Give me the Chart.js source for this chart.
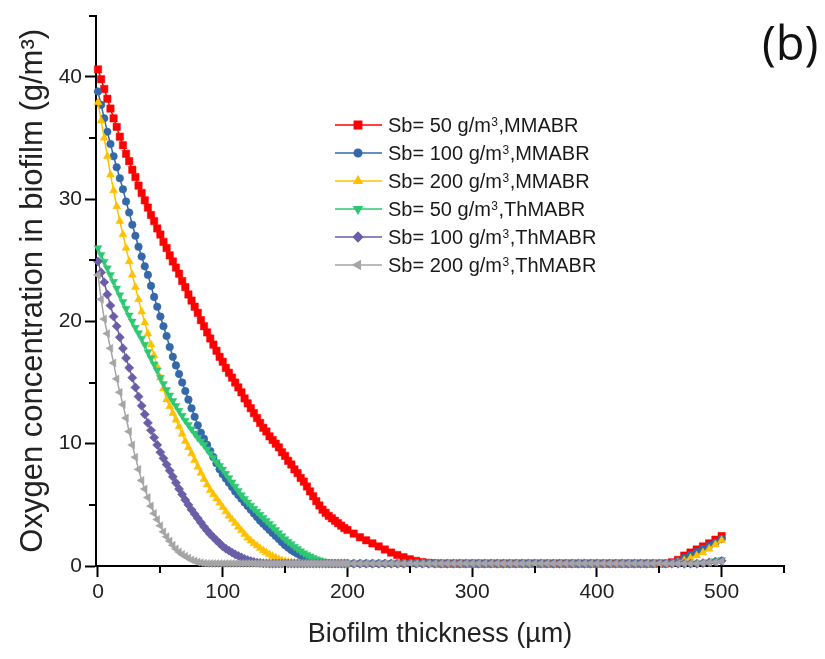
<!DOCTYPE html>
<html>
<head>
<meta charset="utf-8">
<script src="https://cdn.jsdelivr.net/npm/chart.js@4/dist/chart.umd.min.js"></script>
<style>
html,body{margin:0;padding:0;background:#fff;overflow:hidden}
canvas{display:block}
</style>
</head>
<body>
<canvas id="c" width="825" height="659"></canvas>
<script>
// Biofilm thickness (µm)
const thickness = [
0,2.5,5,7.5,10,12.5,15,17.5,20,22.5,
25,27.5,30,32.5,35,37.5,40,42.5,45,47.5,
50,52.5,55,57.5,60,62.5,65,67.5,70,72.5,
75,77.5,80,82.5,85,87.5,90,92.5,95,97.5,
100,102.5,105,107.5,110,112.5,115,117.5,120,122.5,
125,127.5,130,132.5,135,137.5,140,142.5,145,147.5,
150,152.5,155,157.5,160,162.5,165,167.5,170,172.5,
175,177.5,180,182.5,185,187.5,190,192.5,195,197.5,
200,
205,210,215,220,225,230,235,240,245,250,
255,260,265,270,275,280,285,290,295,300,
305,310,315,320,325,330,335,340,345,350,
355,360,365,370,375,380,385,390,395,400,
405,410,415,420,425,430,435,440,445,450,
455,460,465,470,475,480,485,490,495,500
];

// Oxygen concentration (g/m3)
const sb50MMABR = [
40.6,39.8,39.0,38.2,37.4,36.6,35.9,35.1,34.4,33.7,
33.1,32.4,31.8,31.1,30.5,29.9,29.3,28.7,28.2,27.6,
27.1,26.5,26.0,25.4,24.9,24.4,23.9,23.3,22.8,22.2,
21.7,21.2,20.7,20.1,19.6,19.1,18.6,18.1,17.6,17.1,
16.7,16.2,15.8,15.4,15.0,14.6,14.2,13.7,13.3,12.9,
12.5,12.1,11.7,11.3,11.0,10.6,10.3,10.0,9.7,9.3,
9.0,8.6,8.3,7.9,7.6,7.2,6.9,6.5,6.1,5.7,
5.3,4.95,4.6,4.35,4.1,3.9,3.7,3.5,3.3,3.1,
2.95,
2.65,2.35,2.1,1.85,1.6,1.35,1.1,0.9,0.72,0.55,
0.42,0.32,0.26,0.22,0.2,0.2,0.2,0.2,0.2,0.2,
0.2,0.2,0.2,0.2,0.2,0.2,0.2,0.2,0.2,0.2,
0.2,0.2,0.2,0.2,0.2,0.2,0.2,0.2,0.2,0.2,
0.2,0.2,0.2,0.2,0.2,0.2,0.2,0.2,0.2,0.2,
0.2,0.3,0.5,0.85,1.1,1.35,1.6,1.85,2.15,2.45
];
const sb100MMABR = [
38.8,37.7,36.6,35.5,34.5,33.5,32.6,31.7,30.8,29.8,
28.9,27.9,27.0,26.1,25.3,24.5,23.8,22.9,22.0,21.2,
20.4,19.6,18.8,17.9,17.1,16.4,15.7,15.0,14.3,13.6,
12.9,12.2,11.5,10.9,10.4,9.9,9.4,8.9,8.4,7.9,
7.5,7.15,6.8,6.45,6.1,5.8,5.5,5.2,4.9,4.6,
4.3,4.0,3.7,3.45,3.2,2.95,2.7,2.45,2.2,1.95,
1.7,1.5,1.3,1.15,1.0,0.85,0.7,0.57,0.46,0.38,
0.32,0.27,0.24,0.22,0.21,0.2,0.2,0.2,0.2,0.2,
0.2,
0.2,0.2,0.2,0.2,0.2,0.2,0.2,0.2,0.2,0.2,
0.2,0.2,0.2,0.2,0.2,0.2,0.2,0.2,0.2,0.2,
0.2,0.2,0.2,0.2,0.2,0.2,0.2,0.2,0.2,0.2,
0.2,0.2,0.2,0.2,0.2,0.2,0.2,0.2,0.2,0.2,
0.2,0.2,0.2,0.2,0.2,0.2,0.2,0.2,0.2,0.2,
0.2,0.25,0.4,0.65,0.9,1.15,1.4,1.65,1.9,2.2
];
const sb200MMABR = [
37.9,36.4,35.0,33.5,32.0,30.7,29.4,28.2,27.1,26.0,
24.9,23.8,22.8,21.8,20.8,19.9,19.0,18.1,17.2,16.3,
15.4,14.5,13.6,13.05,12.5,11.95,11.4,10.8,10.2,9.7,
9.2,8.65,8.1,7.6,7.1,6.65,6.2,5.85,5.5,5.15,
4.8,4.45,4.1,3.8,3.5,3.2,2.9,2.6,2.3,2.07,
1.85,1.65,1.45,1.27,1.1,0.95,0.8,0.67,0.55,0.45,
0.37,0.31,0.27,0.24,0.22,0.21,0.2,0.2,0.2,0.2,
0.2,0.2,0.2,0.2,0.2,0.2,0.2,0.2,0.2,0.2,
0.2,
0.2,0.2,0.2,0.2,0.2,0.2,0.2,0.2,0.2,0.2,
0.2,0.2,0.2,0.2,0.2,0.2,0.2,0.2,0.2,0.2,
0.2,0.2,0.2,0.2,0.2,0.2,0.2,0.2,0.2,0.2,
0.2,0.2,0.2,0.2,0.2,0.2,0.2,0.2,0.2,0.2,
0.2,0.2,0.2,0.2,0.2,0.2,0.2,0.2,0.2,0.2,
0.2,0.2,0.28,0.45,0.65,0.85,1.1,1.4,1.75,2.1
];
const sb50ThMABR = [
26.0,25.45,24.9,24.35,23.8,23.25,22.7,22.15,21.6,21.05,
20.5,20.0,19.5,19.05,18.6,18.1,17.5,17.0,16.5,16.0,
15.4,14.9,14.4,13.95,13.5,13.1,12.7,12.3,11.9,11.55,
11.2,10.85,10.5,10.2,9.9,9.55,9.2,8.85,8.5,8.2,
7.9,7.55,7.2,6.85,6.5,6.15,5.8,5.5,5.2,4.95,
4.7,4.45,4.2,3.95,3.7,3.45,3.2,2.95,2.7,2.45,
2.2,2.0,1.8,1.6,1.4,1.22,1.05,0.92,0.8,0.68,
0.57,0.48,0.4,0.34,0.29,0.25,0.23,0.21,0.2,0.2,
0.2,
0.2,0.2,0.2,0.2,0.2,0.2,0.2,0.2,0.2,0.2,
0.2,0.2,0.2,0.2,0.2,0.2,0.2,0.2,0.2,0.2,
0.2,0.2,0.2,0.2,0.2,0.2,0.2,0.2,0.2,0.2,
0.2,0.2,0.2,0.2,0.2,0.2,0.2,0.2,0.2,0.2,
0.2,0.2,0.2,0.2,0.2,0.2,0.2,0.2,0.2,0.2,
0.2,0.2,0.2,0.2,0.2,0.2,0.25,0.32,0.4,0.5
];
const sb100ThMABR = [
24.9,24.0,23.2,22.2,21.3,20.4,19.6,18.7,17.8,17.0,
16.2,15.4,14.6,13.85,13.1,12.4,11.7,11.1,10.5,9.9,
9.3,8.8,8.3,7.8,7.3,6.8,6.3,5.85,5.4,5.0,
4.6,4.25,3.9,3.55,3.2,2.9,2.6,2.35,2.1,1.85,
1.6,1.42,1.25,1.1,0.95,0.82,0.7,0.58,0.48,0.4,
0.33,0.28,0.25,0.22,0.21,0.2,0.2,0.2,0.2,0.2,
0.2,0.2,0.2,0.2,0.2,0.2,0.2,0.2,0.2,0.2,
0.2,0.2,0.2,0.2,0.2,0.2,0.2,0.2,0.2,0.2,
0.2,
0.2,0.2,0.2,0.2,0.2,0.2,0.2,0.2,0.2,0.2,
0.2,0.2,0.2,0.2,0.2,0.2,0.2,0.2,0.2,0.2,
0.2,0.2,0.2,0.2,0.2,0.2,0.2,0.2,0.2,0.2,
0.2,0.2,0.2,0.2,0.2,0.2,0.2,0.2,0.2,0.2,
0.2,0.2,0.2,0.2,0.2,0.2,0.2,0.2,0.2,0.2,
0.2,0.2,0.2,0.2,0.2,0.2,0.24,0.3,0.36,0.42
];
const sb200ThMABR = [
23.8,21.8,20.2,19.0,17.8,16.6,15.3,14.2,13.2,12.1,
11.0,9.9,8.9,7.9,7.0,6.3,5.6,4.9,4.3,3.8,
3.3,2.8,2.4,2.05,1.7,1.4,1.15,0.95,0.8,0.65,
0.5,0.4,0.32,0.27,0.23,0.21,0.2,0.2,0.2,0.2,
0.2,0.2,0.2,0.2,0.2,0.2,0.2,0.2,0.2,0.2,
0.2,0.2,0.2,0.2,0.2,0.2,0.2,0.2,0.2,0.2,
0.2,0.2,0.2,0.2,0.2,0.2,0.2,0.2,0.2,0.2,
0.2,0.2,0.2,0.2,0.2,0.2,0.2,0.2,0.2,0.2,
0.2,
0.2,0.2,0.2,0.2,0.2,0.2,0.2,0.2,0.2,0.2,
0.2,0.2,0.2,0.2,0.2,0.2,0.2,0.2,0.2,0.2,
0.2,0.2,0.2,0.2,0.2,0.2,0.2,0.2,0.2,0.2,
0.2,0.2,0.2,0.2,0.2,0.2,0.2,0.2,0.2,0.2,
0.2,0.2,0.2,0.2,0.2,0.2,0.2,0.2,0.2,0.2,
0.2,0.2,0.2,0.2,0.2,0.2,0.24,0.28,0.33,0.38
];

// Legend text parts (prefix, superscript, suffix)
const labelPrefix = ['Sb= 50 g/m', 'Sb= 100 g/m', 'Sb= 200 g/m', 'Sb= 50 g/m', 'Sb= 100 g/m', 'Sb= 200 g/m'];
const labelSuffix = [',MMABR', ',MMABR', ',MMABR', ',ThMABR', ',ThMABR', ',ThMABR'];
const labelSup = '3';

// Axis tick settings
const xMajorStep = 100;
const yMajorStep = 10;
const xMinorTicks = [50, 150, 250, 350, 450, 550];
const yMinorTicks = [5, 15, 25, 35, 45];

const seriesValues = [sb50MMABR, sb100MMABR, sb200MMABR, sb50ThMABR, sb100ThMABR, sb200ThMABR];
const seriesColors = ['#FF0000', '#3468A8', '#FFC000', '#2EC872', '#6A5FA6', '#A5A5A5'];
const seriesStyles = ['rect', 'circle', 'triangle', 'triangle', 'rectRot', 'triangle'];
const seriesRotation = [0, 0, 0, 180, 0, 270];
const seriesRadius = [5.2, 3.8, 4.6, 4.6, 4.6, 4.6];

const FONT = '"Liberation Sans", Arial, sans-serif';

const datasets = seriesValues.map((vals, i) => ({
  label: labelPrefix[i] + '\u00B3' + labelSuffix[i],
  data: thickness.map((t, k) => ({x: t, y: vals[k]})),
  showLine: true,
  borderColor: seriesColors[i],
  backgroundColor: seriesColors[i],
  pointBackgroundColor: seriesColors[i],
  pointBorderColor: seriesColors[i],
  pointBorderWidth: 0.5,
  borderWidth: 1.5,
  pointStyle: seriesStyles[i],
  pointRotation: seriesRotation[i],
  pointRadius: seriesRadius[i],
  order: 5 - i,
  clip: false,
  tension: 0
}));

const minorTicksPlugin = {
  id: 'minorTicks',
  afterDraw(chart) {
    const {x, y} = chart.scales;
    const ctx = chart.ctx;
    ctx.save();
    ctx.strokeStyle = '#000';
    ctx.lineWidth = 2;
    ctx.beginPath();
    xMinorTicks.forEach(v => {
      const px = Math.round(x.getPixelForValue(v));
      ctx.moveTo(px, y.bottom);
      ctx.lineTo(px, y.bottom + 7);
    });
    yMinorTicks.forEach(v => {
      const py = Math.round(y.getPixelForValue(v));
      ctx.moveTo(x.left, py);
      ctx.lineTo(x.left - 7, py);
    });
    ctx.stroke();
    ctx.restore();
  }
};

const LEG_LINE_X0 = 335, LEG_LINE_X1 = 382, LEG_MARK_X = 358, LEG_TEXT_X = 388;
const LEG_TOP = 125, LEG_STEP = 28;

function drawMarker(ctx, style, r, rot, cx, cy) {
  if (Chart.helpers && Chart.helpers.drawPoint) {
    Chart.helpers.drawPoint(ctx, {pointStyle: style, radius: r, rotation: rot, borderWidth: 0.5}, cx, cy);
  } else {
    ctx.beginPath(); ctx.arc(cx, cy, r, 0, Math.PI * 2); ctx.fill();
  }
}

const legendPlugin = {
  id: 'customLegend',
  afterDraw(chart) {
    const ctx = chart.ctx;
    ctx.save();
    labelPrefix.forEach((pre, i) => {
      const y = LEG_TOP + i * LEG_STEP;
      ctx.strokeStyle = seriesColors[i];
      ctx.lineWidth = 1.5;
      ctx.beginPath();
      ctx.moveTo(LEG_LINE_X0, y);
      ctx.lineTo(LEG_LINE_X1, y);
      ctx.stroke();
      ctx.fillStyle = seriesColors[i];
      ctx.strokeStyle = seriesColors[i];
      drawMarker(ctx, seriesStyles[i], seriesRadius[i], seriesRotation[i], LEG_MARK_X, y);
      ctx.fillStyle = '#1a1a1a';
      ctx.textAlign = 'left';
      ctx.textBaseline = 'alphabetic';
      ctx.font = '20px ' + FONT;
      const base = y + 7;
      ctx.fillText(pre, LEG_TEXT_X, base);
      let xx = LEG_TEXT_X + ctx.measureText(pre).width;
      ctx.font = '12px ' + FONT;
      ctx.fillText(labelSup, xx + 0.5, base - 6);
      xx += ctx.measureText(labelSup).width + 1;
      ctx.font = '20px ' + FONT;
      ctx.fillText(labelSuffix[i], xx, base);
    });
    ctx.font = '47px "Open Sans", "Noto Sans", sans-serif';
    ctx.fillStyle = '#111';
    ctx.fillText('(b)', 762, 60);
    ctx.restore();
  }
};

new Chart(document.getElementById('c'), {
  type: 'scatter',
  data: {datasets},
  options: {
    responsive: false,
    animation: false,
    events: [],
    layout: {padding: {top: 12, right: 41, left: 0, bottom: 0}},
    plugins: {legend: {display: false}, tooltip: {enabled: false}},
    scales: {
      x: {
        type: 'linear',
        min: -1.6,
        max: 550,
        border: {display: true, color: '#000', width: 2},
        grid: {display: true, drawOnChartArea: false, drawTicks: true, tickLength: 11, tickWidth: 2, tickColor: '#000'},
        ticks: {stepSize: xMajorStep, includeBounds: false, color: '#222', font: {family: FONT, size: 21}, padding: 3, maxRotation: 0},
        title: {display: true, text: 'Biofilm thickness (\u00B5m)', color: '#222', font: {family: FONT, size: 27}, padding: {top: 0, bottom: 8}},
        afterFit(scale) { scale.height = 93; }
      },
      y: {
        type: 'linear',
        min: 0,
        max: 45,
        border: {display: true, color: '#000', width: 2},
        grid: {display: true, drawOnChartArea: false, drawTicks: true, tickLength: 11, tickWidth: 2, tickColor: '#000'},
        ticks: {stepSize: yMajorStep, includeBounds: false, color: '#222', font: {family: FONT, size: 21}, padding: 3},
        title: {display: true, text: 'Oxygen concentration in biofilm (g/m\u00B3)', color: '#222', font: {family: FONT, size: 31}, padding: {top: 15, bottom: 0}},
        afterFit(scale) { scale.width = 96; }
      }
    }
  },
  plugins: [minorTicksPlugin, legendPlugin]
});
</script>
</body>
</html>
